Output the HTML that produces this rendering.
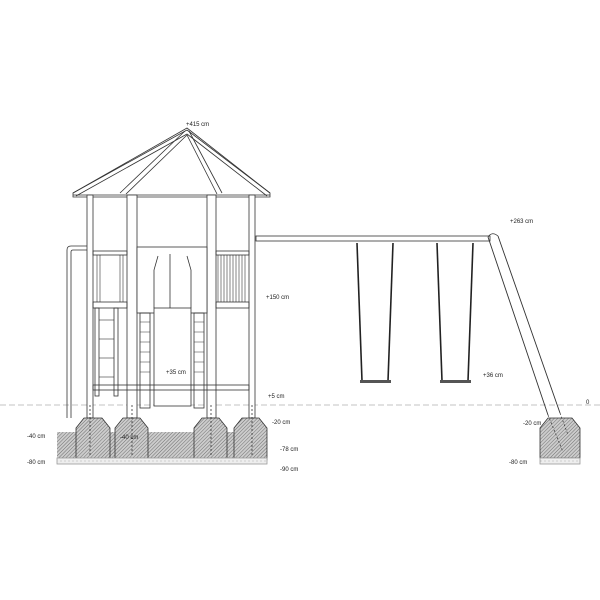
<!DOCTYPE html>
<html><head><meta charset="utf-8"><style>html,body{margin:0;padding:0;background:#fff}svg{display:block}</style></head>
<body>
<svg width="600" height="600" viewBox="0 0 600 600" xmlns="http://www.w3.org/2000/svg" font-family="Liberation Sans, sans-serif" font-size="6" fill="none" stroke="#333" stroke-width="0.8">
<defs>
<pattern id="h" width="2.5" height="2.5" patternUnits="userSpaceOnUse" patternTransform="rotate(45)">
<rect width="3" height="3" fill="#ccc" stroke="none"/><line x1="0" y1="0" x2="0" y2="3" stroke="#666" stroke-width="0.9"/></pattern>
<pattern id="g" width="4" height="4" patternUnits="userSpaceOnUse"><rect width="4" height="4" fill="#eee" stroke="none"/><circle cx="1" cy="1" r="0.5" fill="#999" stroke="none"/></pattern>
</defs>
<line x1="0" y1="405" x2="600" y2="405" stroke="#888" stroke-dasharray="6,3" stroke-width="0.6"/>
<polygon points="73,193 187,128 270,193 270,197 73,197" fill="#fff"/>
<line x1="73" y1="193" x2="187" y2="130"/><line x1="76" y1="196" x2="187" y2="134"/>
<line x1="270" y1="193" x2="187" y2="130"/><line x1="267" y1="196" x2="187" y2="134"/>
<line x1="120" y1="193" x2="185" y2="131"/><line x1="126" y1="194" x2="187" y2="135"/>
<line x1="222" y1="193" x2="189" y2="131"/><line x1="217" y1="194" x2="187" y2="135"/>
<line x1="73" y1="195" x2="270" y2="195"/>
<rect x="87" y="195" width="6" height="223" fill="#fff"/>
<rect x="249" y="195" width="6" height="223" fill="#fff"/>
<rect x="127" y="195" width="10" height="223" fill="#fff"/>
<rect x="207" y="195" width="9" height="223" fill="#fff"/>
<rect x="93" y="251" width="34" height="4"/><rect x="216" y="251" width="33" height="4"/>
<rect x="137" y="247" width="70" height="66" fill="#fff"/>
<line x1="170" y1="254" x2="170" y2="308"/>
<g stroke-width="0.6"><line x1="97" y1="255" x2="97" y2="302"/><line x1="100" y1="255" x2="100" y2="302"/><line x1="120" y1="255" x2="120" y2="302"/><line x1="123" y1="255" x2="123" y2="302"/>
<line x1="218" y1="255" x2="218" y2="302"/><line x1="221" y1="255" x2="221" y2="302"/><line x1="224" y1="255" x2="224" y2="302"/><line x1="227" y1="255" x2="227" y2="302"/><line x1="230" y1="255" x2="230" y2="302"/><line x1="233" y1="255" x2="233" y2="302"/><line x1="236" y1="255" x2="236" y2="302"/><line x1="239" y1="255" x2="239" y2="302"/><line x1="242" y1="255" x2="242" y2="302"/><line x1="245" y1="255" x2="245" y2="302"/></g>
<rect x="216" y="302" width="33" height="6"/><rect x="93" y="302" width="34" height="6"/>
<path d="M67,418 V250 Q67,246 71,246 H87 M71,418 V252 Q71,250 73,250 H87"/>
<rect x="95" y="308" width="4" height="88"/><rect x="114" y="308" width="4" height="88"/>
<g stroke-width="0.6"><line x1="99" y1="320" x2="114" y2="320"/><line x1="99" y1="339" x2="114" y2="339"/><line x1="99" y1="358" x2="114" y2="358"/><line x1="99" y1="377" x2="114" y2="377"/></g>
<rect x="140" y="313" width="10" height="95"/><rect x="194" y="313" width="10" height="95"/>
<g stroke-width="0.5"><line x1="140" y1="322" x2="150" y2="322"/><line x1="140" y1="332" x2="150" y2="332"/><line x1="140" y1="342" x2="150" y2="342"/><line x1="140" y1="352" x2="150" y2="352"/><line x1="140" y1="362" x2="150" y2="362"/><line x1="140" y1="372" x2="150" y2="372"/><line x1="194" y1="322" x2="204" y2="322"/><line x1="194" y1="332" x2="204" y2="332"/><line x1="194" y1="342" x2="204" y2="342"/><line x1="194" y1="352" x2="204" y2="352"/><line x1="194" y1="362" x2="204" y2="362"/><line x1="194" y1="372" x2="204" y2="372"/></g>
<rect x="154" y="308" width="37" height="98" fill="#fff"/>
<path d="M154,308 V270 L158,256 M191,308 V270 L187,256"/>
<rect x="93" y="385" width="156" height="5"/>
<rect x="57" y="432" width="178" height="28" fill="url(#h)" stroke="none"/>
<g fill="url(#h)">
<path d="M76,460 V428 L84,418 H102 L110,428 V460Z"/>
<path d="M115,460 V428 L123,418 H140 L148,428 V460Z"/>
<path d="M194,460 V428 L202,418 H219 L227,428 V460Z"/>
<path d="M234,460 V428 L242,418 H259 L267,428 V460Z"/>
<path d="M540,458 V428 L548,418 H572 L580,428 V458Z"/>
</g>
<rect x="57" y="458" width="210" height="6" fill="url(#g)" stroke="#999"/>
<rect x="540" y="458" width="40" height="6" fill="url(#g)" stroke="#999"/>
<line x1="90" y1="405" x2="90" y2="455" stroke-dasharray="2,2"/><line x1="132" y1="405" x2="132" y2="455" stroke-dasharray="2,2"/><line x1="211" y1="405" x2="211" y2="455" stroke-dasharray="2,2"/><line x1="252" y1="405" x2="252" y2="455" stroke-dasharray="2,2"/>
<rect x="256" y="236" width="234" height="5" fill="#fff"/>
<g stroke="#222" stroke-width="1.6"><line x1="357" y1="243" x2="362" y2="381"/><line x1="393" y1="243" x2="388" y2="381"/><line x1="437" y1="243" x2="442" y2="381"/><line x1="473" y1="243" x2="468" y2="381"/></g>
<g fill="#555" stroke="none"><rect x="360" y="380" width="31" height="3"/><rect x="440" y="380" width="31" height="3"/></g>
<path d="M488,237 L548,415 M498,236 L560,413" stroke-width="0.9"/>
<path d="M548,415 L563,452 M560,413 L568,435" stroke-dasharray="2,2" stroke-width="0.7"/>
<path d="M488,237 Q492,231 498,236"/>
<g fill="#222" stroke="none">
<text x="186" y="126">+415 cm</text><text x="510" y="223">+263 cm</text>
<text x="266" y="299">+150 cm</text><text x="483" y="377">+36 cm</text>
<text x="166" y="374">+35 cm</text><text x="268" y="398">+5 cm</text>
<text x="272" y="424">-20 cm</text><text x="523" y="425">-20 cm</text>
<text x="27" y="438">-40 cm</text><text x="120" y="439">-40 cm</text>
<text x="27" y="464">-80 cm</text><text x="280" y="451">-78 cm</text>
<text x="280" y="471">-90 cm</text><text x="509" y="464">-80 cm</text>
<text x="586" y="404">0</text>
</g>
</svg>
</body></html>
